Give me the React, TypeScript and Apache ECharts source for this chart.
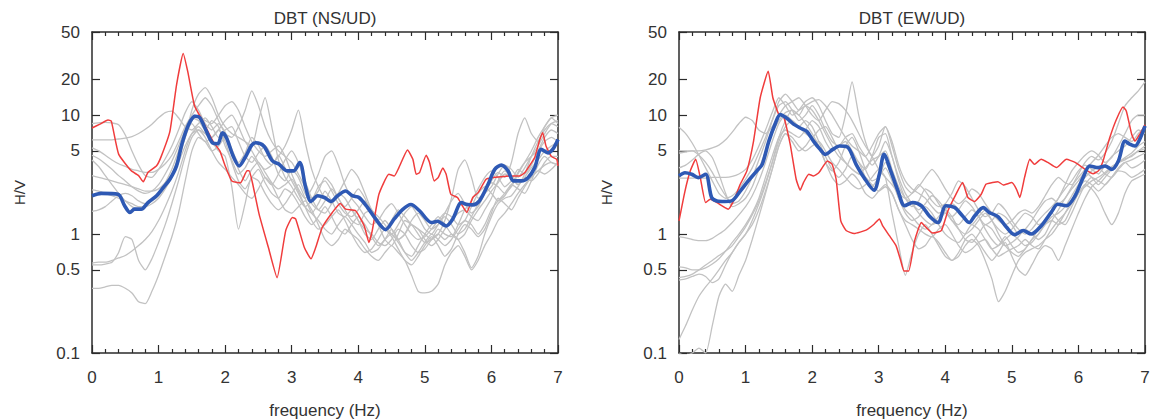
import React, { useEffect, useRef } from 'react';
import * as echarts from 'echarts';

// Sampling frequencies (Hz) of the individual gray curves
const FREQ = [
  0, 0.1, 0.2, 0.3, 0.4, 0.5, 0.6, 0.7, 0.8, 0.9,
  1, 1.1, 1.2, 1.3, 1.4, 1.5, 1.6, 1.7, 1.8, 1.9,
  2, 2.1, 2.2, 2.3, 2.4, 2.5, 2.6, 2.7, 2.8, 2.9,
  3, 3.1, 3.2, 3.3, 3.4, 3.5, 3.6, 3.7, 3.8, 3.9,
  4, 4.1, 4.2, 4.3, 4.4, 4.5, 4.6, 4.7, 4.8, 4.9,
  5, 5.1, 5.2, 5.3, 5.4, 5.5, 5.6, 5.7, 5.8, 5.9,
  6, 6.1, 6.2, 6.3, 6.4, 6.5, 6.6, 6.7, 6.8, 6.9,
  7,
];

const TITLES = ['DBT (NS/UD)', 'DBT (EW/UD)'];
const HV_TICKS = [0.1, 0.5, 1, 5, 10, 20, 50];
const X_NAME = 'frequency (Hz)';
const Y_NAME = 'H/V';

// NS/UD individual records (gray)
const nsGray: number[][] = [
  [8.5,8.6,8.7,8.6,8.3,6.8,5.0,3.8,3.1,3.0, 3.5,4.3,5.5,7.5,10.5,13,11,8.5,7.5,8.5, 7.2,5.2,4.0,4.8,6.5,5.6,4.3,3.8,4.6,3.6, 2.8,2.2,1.7,1.5,1.8,2.3,1.9,1.5,1.4,1.6, 1.3,1.0,0.9,1.1,1.3,1.1,0.9,1.0,1.3,1.5, 1.3,1.1,1.2,1.5,1.9,2.2,1.8,1.5,1.7,2.2, 2.8,3.3,3.0,4.0,7.0,9.5,7.0,6.0,8.0,9.5, 8.5],
  [6.2,6.2,6.2,6.2,6.3,6.4,6.6,7.0,7.6,8.4, 9.5,10.5,10.8,9.5,8.0,7.5,8.5,9.5,8.0,6.5, 7.5,8.0,6.0,4.5,4.0,4.8,5.5,4.5,3.2,2.8, 3.5,3.0,2.2,1.8,1.6,1.9,2.4,2.0,1.6,1.3, 1.2,1.5,1.6,1.2,0.9,0.8,1.0,1.3,1.2,1.0, 0.85,0.9,1.1,1.0,0.95,1.2,1.6,1.9,2.4,3.0, 3.4,3.0,2.5,2.8,3.5,3.2,3.8,5.0,6.5,7.5, 7.0],
  [5.3,5.0,4.6,4.2,3.9,3.7,3.5,3.4,3.3,3.3, 3.5,3.9,4.6,6.0,8.0,10,12,14,12,9, 7,6.5,8,11,16,12,8,6,5,4.5, 4,3.2,2.5,2.0,2.3,3.0,2.6,2.0,1.7,2.0, 2.4,2.0,1.5,1.2,1.1,1.3,1.6,1.4,1.2,1.1, 1.0,0.9,1.0,1.3,2.0,3.5,4.2,3.0,2.0,2.2, 2.5,3.2,3.8,3.5,3.0,3.6,4.5,5.0,6.0,6.5, 6.0],
  [4.6,4.3,3.9,3.5,3.1,2.8,2.5,2.3,2.2,2.3, 2.6,3.2,4.1,5.5,7.5,9.5,9.0,7.5,9.0,8.0, 5.5,4.2,3.2,3.6,4.5,3.8,3.0,2.6,3.2,4.2, 5.0,4.0,2.8,2.0,1.6,1.5,1.8,2.2,2.0,1.6, 1.3,1.1,1.0,0.85,0.8,0.9,1.1,1.0,0.8,0.7, 0.75,0.9,1.0,0.9,1.0,0.9,0.7,0.52,0.65,1.0, 1.4,1.8,2.0,2.1,2.5,3.0,2.8,3.2,4.0,4.5, 4.5],
  [4.2,3.7,3.1,2.6,2.2,1.9,1.7,1.6,1.7,1.9, 2.2,2.7,3.5,5.0,7.0,8.5,7.0,6.0,6.5,7.5, 6.0,4.0,2.8,2.4,3.0,3.5,2.7,2.2,2.0,2.4, 2.2,1.8,1.4,1.2,1.4,1.7,1.4,1.1,1.0,1.2, 1.4,1.2,0.95,0.8,0.9,1.1,0.9,0.7,0.6,0.7, 0.85,1.0,0.9,0.8,0.9,1.1,1.3,1.2,1.0,1.2, 1.6,1.9,2.2,2.6,2.4,2.2,2.8,3.8,4.5,4.0, 3.8],
  [3.1,3.0,2.9,2.8,2.7,2.6,2.5,2.4,2.3,2.3, 2.4,2.7,3.2,4.3,6.5,11,15,17,14,10, 8.0,7.0,6.5,6.0,5.5,9.0,14,8.0,4.2,3.0, 2.5,2.0,1.7,1.9,2.5,2.8,2.3,1.8,1.5,1.4, 1.6,1.9,1.6,1.3,1.1,1.0,1.2,1.5,1.7,1.4, 1.1,1.0,1.2,1.4,1.2,1.0,1.1,1.4,1.8,2.3, 2.7,2.5,2.2,2.5,3.2,4.0,5.0,6.5,8.0,9.5, 10],
  [2.35,2.3,2.2,2.1,2.0,1.9,1.8,1.7,1.7,1.8, 2.0,2.4,3.0,4.0,5.5,7.0,7.5,7.0,6.0,5.0, 4.5,2.5,1.1,1.8,3.0,2.8,2.2,1.8,1.6,1.8, 2.2,2.6,2.0,1.5,1.3,1.1,1.0,1.2,1.4,1.2, 1.0,0.85,0.7,0.75,0.9,1.0,0.85,0.7,0.65,0.8, 1.0,1.2,1.4,1.2,1.0,0.9,1.0,1.3,1.6,1.9, 2.3,2.7,3.2,3.0,2.6,3.0,3.6,4.2,5.0,5.5, 6.0],
  [1.55,1.6,1.7,1.9,2.1,2.2,2.1,1.9,1.8,1.9, 2.1,2.5,3.2,4.5,6.5,9.0,10,9.0,8.5,10, 12,13,11,8.0,6.0,5.0,4.5,5.0,5.5,4.5, 3.2,2.4,2.0,2.4,3.2,4.5,5.0,3.8,2.6,2.0, 1.7,1.4,1.2,1.3,1.6,1.8,1.5,1.2,1.0,0.9, 0.95,1.1,1.3,1.5,1.4,1.2,1.3,1.7,2.2,2.5, 2.2,1.9,2.1,2.6,3.3,4.0,4.5,5.5,7.0,8.5, 9.0],
  [0.57,0.58,0.58,0.6,0.63,0.66,0.72,0.8,0.9,1.05, 1.3,1.7,2.3,3.3,5.0,7.0,8.0,7.0,6.5,7.5, 9.0,10,8.0,6.0,5.0,4.0,3.5,3.8,4.5,5.5, 7.5,11,6.0,3.5,2.5,2.0,1.8,2.2,2.8,3.5, 3.0,2.2,1.6,1.4,1.2,1.0,0.9,1.0,1.2,1.1, 0.9,0.8,0.9,1.1,1.3,1.5,1.6,1.4,1.3,1.6, 2.0,2.8,3.4,3.0,2.6,3.2,4.5,6.0,7.5,8.5, 8.0],
  [0.55,0.55,0.56,0.58,0.7,0.95,0.9,0.6,0.5,0.62, 0.85,1.2,1.8,2.8,4.5,6.5,7.5,6.5,5.0,4.0, 3.5,3.0,2.6,2.2,2.0,2.4,3.0,2.6,2.0,1.6, 1.5,1.7,1.9,1.6,1.2,0.9,0.8,0.9,1.1,1.0, 0.9,0.75,0.65,0.6,0.7,0.8,0.7,0.6,0.45,0.33, 0.32,0.33,0.38,0.55,0.7,0.8,0.65,0.5,0.6,0.8, 1.0,1.3,1.5,1.8,2.2,2.6,3.0,3.4,3.8,4.0, 3.8],
  [0.35,0.35,0.36,0.37,0.37,0.35,0.32,0.27,0.26,0.33, 0.45,0.65,0.95,1.5,2.8,5.0,6.5,6.0,5.0,5.5, 6.5,5.0,3.5,2.8,3.5,4.0,3.3,2.7,2.4,2.6, 2.9,2.3,1.7,1.3,1.1,1.2,1.4,1.6,1.3,1.0, 0.8,0.7,0.75,0.9,1.1,0.95,0.75,0.6,0.55,0.65, 0.8,0.95,0.8,0.65,0.75,1.0,1.2,1.1,0.95,1.1, 1.5,2.0,1.8,1.6,2.0,2.5,3.0,3.4,3.2,3.5, 4.0],
];

// EW/UD individual records (gray)
const ewGray: number[][] = [
  [7.9,7.0,5.8,4.6,3.6,2.8,2.2,2.0,2.1,2.4, 2.9,3.6,4.8,6.5,9.0,12,13,11,9.0,10, 12,10,7.5,6.0,5.5,6.5,7.0,5.5,4.5,3.8, 4.5,6.0,4.5,2.8,2.0,1.7,1.9,2.4,2.2,1.8, 1.5,1.4,1.6,1.9,1.7,1.4,1.2,1.3,1.5,1.4, 1.2,1.0,1.1,1.3,1.6,1.9,2.0,1.8,2.0,2.5, 3.2,4.0,4.5,4.2,4.8,6.0,8.5,12,14,16, 19],
  [5.0,5.0,5.0,5.0,5.1,5.3,5.6,6.2,7.2,8.5, 9.6,9.0,7.5,7.0,8.0,10,12,13,14,12, 10,9.0,11,13,12.5,11,9.0,7.0,5.5,4.5, 3.5,3.0,2.6,2.2,2.0,2.2,2.6,2.3,1.9,1.7, 1.8,2.2,2.8,2.5,2.0,1.6,1.4,1.5,1.8,1.6, 1.3,1.1,1.0,1.1,1.3,1.5,1.7,2.0,2.6,3.4, 4.0,4.6,5.0,4.6,4.0,4.4,5.5,7.0,9.0,10, 10],
  [2.95,2.95,2.95,2.95,2.95,3.0,3.0,3.0,3.05,3.2, 3.5,4.2,5.5,7.5,10.5,14,12,10,11,13, 14,12,9.0,7.0,6.5,10,19,10,6.0,4.5, 5.5,8.0,6.0,3.8,2.8,2.4,2.2,2.0,1.7,1.5, 1.6,1.8,1.6,1.3,1.2,1.4,1.6,1.3,1.1,1.0, 1.1,1.3,1.5,1.4,1.2,1.3,1.6,2.0,2.4,2.8, 3.4,3.8,3.5,3.2,3.8,4.5,5.0,5.5,6.5,7.5, 7.0],
  [3.6,3.8,4.2,4.7,5.0,4.4,3.2,2.2,1.7,1.8, 2.0,2.5,3.5,5.0,7.0,9.0,10.5,11,10,8.5, 7.0,5.5,4.0,3.4,4.0,5.5,6.5,5.0,3.5,2.8, 3.0,4.0,3.0,2.0,1.6,1.4,1.2,1.1,1.2,1.4, 1.6,1.4,1.1,0.9,0.85,1.0,1.2,1.1,0.9,0.8, 0.85,0.95,1.1,1.0,0.9,1.0,1.3,1.6,2.0,2.4, 2.8,3.3,3.0,2.6,3.0,3.5,4.0,4.3,4.5,5.0, 5.2],
  [0.95,0.93,0.9,0.88,0.88,0.92,1.0,1.1,1.25,1.45, 1.7,2.1,2.8,4.0,6.0,8.5,10,9.0,8.0,9.0, 8.0,6.0,4.5,3.5,3.0,3.5,4.5,4.0,3.0,2.5, 3.0,3.6,2.8,2.0,1.5,1.3,1.4,1.7,1.5,1.2, 1.0,0.9,0.85,1.0,1.2,1.1,0.9,0.75,0.8,0.95, 0.8,0.7,0.75,0.9,1.0,1.2,1.4,1.5,1.7,2.1, 2.6,3.0,3.4,3.6,3.2,3.0,3.5,4.0,4.2,4.5, 4.8],
  [0.53,0.52,0.5,0.5,0.52,0.56,0.62,0.72,0.85,1.0, 1.2,1.5,2.0,3.0,4.5,6.5,7.5,7.0,6.5,7.5, 9.0,8.0,6.0,5.0,5.5,6.0,5.0,4.0,3.5,4.5, 6.5,7.0,4.5,3.0,2.2,1.8,1.5,1.3,1.2,1.3, 1.5,1.3,1.1,1.0,1.1,1.3,1.5,1.3,1.0,0.8, 0.7,0.65,0.75,0.9,1.1,1.3,1.5,1.3,1.2,1.5, 2.0,2.6,3.0,2.8,2.6,3.0,3.6,4.0,3.6,3.8, 4.2],
  [0.43,0.44,0.46,0.5,0.55,0.6,0.66,0.72,0.8,0.95, 1.15,1.45,1.9,2.7,4.0,6.0,8.0,9.0,8.0,7.0, 6.5,7.5,8.0,6.5,5.0,4.0,3.5,3.2,3.0,2.6, 2.3,2.5,2.2,1.6,1.2,0.9,0.75,0.8,0.95,0.85, 0.7,0.6,0.65,0.8,0.9,0.8,0.6,0.42,0.27,0.33, 0.45,0.6,0.7,0.75,0.8,0.9,1.0,1.2,1.5,1.9, 2.4,2.8,2.6,2.3,2.6,3.0,3.4,3.3,3.0,3.2, 3.5],
  [0.41,0.42,0.44,0.46,0.44,0.39,0.42,0.55,0.7,0.85, 1.0,1.2,1.6,2.3,3.5,5.5,7.0,6.5,5.5,5.0, 5.5,6.0,5.0,4.0,3.5,3.0,2.6,2.4,2.6,3.0, 3.5,3.0,1.5,0.8,0.45,0.7,1.0,1.2,1.0,0.8, 0.65,0.6,0.7,0.9,1.0,0.85,0.7,0.6,0.7,0.85, 0.65,0.5,0.45,0.55,0.7,0.8,0.75,0.6,0.8,1.1, 1.5,2.0,2.5,2.8,3.2,3.6,4.0,4.4,4.8,5.5, 6.0],
  [0.13,0.17,0.23,0.3,0.36,0.42,0.5,0.6,0.7,0.85, 1.0,1.3,1.8,2.6,4.0,6.5,9.0,11,10,12, 11,9.0,7.0,5.5,4.5,4.0,3.5,3.2,3.6,4.2, 4.5,5.0,3.5,2.5,2.0,1.8,1.6,1.8,2.1,1.9, 1.6,1.3,1.2,1.4,1.6,1.4,1.1,0.9,0.8,0.9, 1.0,0.9,0.8,0.85,1.0,1.2,1.3,1.2,1.3,1.7, 2.2,2.6,2.4,2.0,1.5,1.2,1.5,2.2,2.8,3.0, 3.2],
  [0.1,0.095,0.1,0.11,0.1,0.17,0.3,0.38,0.33,0.45, 0.6,0.9,1.4,2.2,3.5,5.5,7.0,6.0,5.0,5.5, 6.5,5.5,4.0,3.0,2.6,2.8,3.2,2.8,2.2,2.0, 2.3,2.6,2.2,1.6,1.3,1.2,1.1,1.0,0.95,1.1, 1.2,1.0,0.8,0.7,0.75,0.85,0.9,0.75,0.65,0.7, 0.75,0.8,0.9,0.8,0.75,0.9,1.1,1.3,1.5,1.8, 2.2,2.5,2.8,3.0,3.3,3.7,4.0,4.2,4.6,5.0, 5.5],
  [4.8,4.9,5.0,4.6,4.0,3.3,2.6,2.1,1.8,1.9, 2.3,3.0,4.2,6.0,9.0,13,15,13,11,12, 13,13.5,12,10,8.0,6.5,5.5,5.0,4.5,5.5, 7.0,8.0,5.5,3.5,2.5,2.2,2.5,3.0,3.5,3.0, 2.4,2.0,1.8,2.0,2.4,2.2,1.8,1.5,1.3,1.2, 1.3,1.5,1.6,1.5,1.7,2.1,2.6,3.0,2.7,2.6, 3.0,3.5,4.0,4.6,5.5,6.5,7.0,6.5,6.0,7.0, 8.0],
];

// [frequency, H/V] of the highlighted record (red)
const nsRed: number[][] = [
  [0,7.8],[0.12,8.4],[0.24,9.1],[0.29,8.9],[0.4,4.7],[0.59,3.4],[0.7,3.1],[0.77,2.75],[0.84,3.3],[0.97,3.75],
  [1.04,4.5],[1.17,7.3],[1.27,18],[1.37,33],[1.44,23],[1.54,12],[1.65,9.2],[1.82,6],[1.92,5],[2.0,3.75],
  [2.1,2.8],[2.23,2.7],[2.33,3.4],[2.36,3.4],[2.41,2.7],[2.51,1.47],[2.65,0.77],[2.78,0.43],[2.91,1.07],[3.01,1.38],
  [3.06,1.34],[3.19,0.77],[3.29,0.62],[3.36,0.77],[3.46,1.14],[3.61,1.52],[3.73,1.81],[3.81,1.62],[3.96,1.57],[4.09,1.17],
  [4.16,0.85],[4.21,1.07],[4.31,2.16],[4.46,3.18],[4.54,3.08],[4.61,3.62],[4.74,5.1],[4.82,4.25],[4.87,3.18],[4.92,3.28],
  [5.02,4.6],[5.07,4.0],[5.14,2.8],[5.2,2.98],[5.27,3.6],[5.32,3.18],[5.39,2.16],[5.49,2.03],[5.55,1.78],[5.63,1.52],
  [5.72,2.03],[5.8,2.23],[5.92,2.89],[6.0,2.98],[6.15,3.04],[6.35,3.08],[6.42,3.08],[6.5,3.28],[6.57,3.74],[6.65,4.4],
  [6.72,6.05],[6.77,7.1],[6.82,5.5],[6.9,4.5],[6.98,4.25],[7.0,3.75],
];

// [frequency, H/V] of the average curve (blue)
const nsBlue: number[][] = [
  [0,2.1],[0.14,2.2],[0.39,2.16],[0.49,1.73],[0.57,1.52],[0.64,1.62],[0.74,1.62],[0.84,1.84],[0.97,2.1],[1.07,2.46],
  [1.17,2.89],[1.27,3.74],[1.35,5.7],[1.45,8.3],[1.55,9.8],[1.62,9.5],[1.72,7.3],[1.81,5.85],[1.89,5.75],[1.96,7.1],
  [2.02,6.45],[2.12,4.53],[2.21,3.74],[2.3,4.4],[2.4,5.6],[2.46,5.85],[2.58,5.5],[2.71,4.12],[2.81,3.86],[2.93,3.4],
  [3.03,3.4],[3.12,4.0],[3.21,2.46],[3.29,1.88],[3.39,2.1],[3.49,2.03],[3.59,1.88],[3.69,2.1],[3.81,2.3],[3.91,2.1],
  [4.01,2.03],[4.14,1.67],[4.26,1.34],[4.41,1.09],[4.54,1.34],[4.66,1.6],[4.79,1.77],[4.92,1.57],[5.1,1.25],[5.19,1.28],
  [5.32,1.17],[5.42,1.34],[5.55,1.84],[5.62,1.78],[5.72,1.76],[5.82,1.9],[5.95,2.62],[6.05,3.5],[6.15,3.8],[6.25,3.4],
  [6.33,2.8],[6.45,2.8],[6.55,2.98],[6.65,3.62],[6.75,5.15],[6.85,4.82],[6.92,5.15],[7.0,6.25],
];

const ewRed: number[][] = [
  [0,1.29],[0.09,2.3],[0.17,3.4],[0.25,4.25],[0.32,2.98],[0.4,1.84],[0.47,1.96],[0.57,1.84],[0.69,1.67],[0.74,1.62],
  [0.82,1.9],[0.92,2.62],[1.02,3.4],[1.12,6.05],[1.22,14],[1.34,23.4],[1.41,14],[1.5,10.1],[1.57,9.8],[1.67,5.7],
  [1.76,2.89],[1.82,2.34],[1.87,2.71],[1.95,3.18],[2.02,3.08],[2.1,3.28],[2.23,4.12],[2.3,3.86],[2.36,2.9],[2.43,1.29],
  [2.51,1.07],[2.63,1.01],[2.81,1.08],[2.93,1.21],[3.01,1.34],[3.06,1.17],[3.16,0.97],[3.26,0.8],[3.33,0.6],[3.38,0.49],
  [3.45,0.49],[3.54,0.88],[3.64,1.25],[3.71,1.14],[3.81,1.02],[3.94,1.07],[4.04,1.57],[4.16,2.16],[4.26,2.71],[4.34,2.03],
  [4.44,1.88],[4.54,2.16],[4.61,2.62],[4.71,2.71],[4.79,2.76],[4.87,2.59],[5.0,2.71],[5.07,2.38],[5.12,2.03],[5.19,2.98],
  [5.27,4.25],[5.34,3.86],[5.44,4.25],[5.54,4.0],[5.67,3.62],[5.82,4.25],[5.95,4.0],[6.1,3.5],[6.22,3.22],[6.3,3.4],
  [6.37,4.12],[6.47,6.45],[6.57,9.2],[6.67,11.7],[6.72,10.8],[6.8,6.9],[6.85,6.05],[6.92,6.9],[7.0,8.3],
];

const ewBlue: number[][] = [
  [0,3.08],[0.09,3.28],[0.19,3.18],[0.29,2.98],[0.4,3.18],[0.49,2.03],[0.57,1.9],[0.69,1.88],[0.79,1.9],[0.92,2.3],
  [1.04,2.8],[1.17,3.4],[1.25,3.86],[1.35,6.05],[1.45,8.6],[1.52,10.1],[1.62,9.4],[1.72,8.4],[1.82,7.8],[1.92,7.3],
  [2.02,6.05],[2.12,5.15],[2.2,4.68],[2.31,5.15],[2.41,5.5],[2.53,5.4],[2.66,3.86],[2.78,2.98],[2.93,2.34],[3.01,3.18],
  [3.08,4.68],[3.18,3.4],[3.29,2.3],[3.39,1.73],[3.51,1.84],[3.64,1.73],[3.76,1.42],[3.89,1.25],[4.01,1.73],[4.14,1.67],
  [4.26,1.42],[4.36,1.25],[4.44,1.42],[4.57,1.67],[4.66,1.52],[4.79,1.4],[4.92,1.14],[5.04,0.99],[5.17,1.07],[5.29,1.0],
  [5.44,1.17],[5.59,1.52],[5.69,1.78],[5.82,1.73],[5.95,2.1],[6.07,2.98],[6.17,3.74],[6.3,3.62],[6.4,3.74],[6.5,3.5],
  [6.6,4.12],[6.7,6.05],[6.77,5.7],[6.85,5.5],[6.92,6.25],[7.0,8.1],
];

const FONT = '"Liberation Sans", Arial, Helvetica, sans-serif';
const INK = '#2b2b2b';
const TEXT = '#333333';
const GRAY = '#c2c2c2';
const RED = '#f03c3c';
const BLUE = '#2e59b4';

const HV_POS = HV_TICKS.map((v) => Math.log10(v));

function hvLabel(val: number): string {
  let best = 0;
  for (let k = 1; k < HV_POS.length; k++) {
    if (Math.abs(HV_POS[k] - val) < Math.abs(HV_POS[best] - val)) best = k;
  }
  return String(HV_TICKS[best]);
}

function buildOption() {
  const panels = [
    { title: TITLES[0], gray: nsGray, red: nsRed, blue: nsBlue, left: 92, right: 600, center: 325 },
    { title: TITLES[1], gray: ewGray, red: ewRed, blue: ewBlue, left: 679, right: 13, center: 912 },
  ];
  const lineStyleAxis = { color: INK, width: 1.5 };
  const tickStyle = { color: INK, width: 1.2 };
  const grid: any[] = [];
  const xAxis: any[] = [];
  const yAxis: any[] = [];
  const series: any[] = [];
  const title: any[] = [];

  panels.forEach((p, i) => {
    grid.push({ left: p.left, right: p.right, top: 32, bottom: 67, containLabel: false, outerBoundsMode: 'none' });
    title.push({
      text: p.title, left: p.center, top: 10, textAlign: 'center', padding: 0,
      textStyle: { fontSize: 17, fontWeight: 'normal', color: TEXT, fontFamily: FONT },
    });
    const xCommon = {
      type: 'value', gridIndex: i, min: 0, max: 7, interval: 1,
      axisLine: { show: true, onZero: false, lineStyle: lineStyleAxis },
      axisTick: { show: true, inside: true, length: 8, lineStyle: tickStyle },
      minorTick: { show: true, splitNumber: 5, length: 4, lineStyle: tickStyle },
      splitLine: { show: false }, minorSplitLine: { show: false },
    };
    xAxis.push({
      ...xCommon, position: 'bottom',
      axisLabel: { show: true, margin: 16, fontSize: 17, color: TEXT, fontFamily: FONT },
      name: X_NAME, nameLocation: 'middle', nameGap: 49,
      nameTextStyle: { fontSize: 17, color: TEXT, fontFamily: FONT },
    });
    xAxis.push({ ...xCommon, position: 'top', axisLabel: { show: false } });

    yAxis.push({ type: 'log', logBase: 10, gridIndex: i, min: HV_TICKS[0], max: HV_TICKS[HV_TICKS.length - 1], show: false });
    const yCommon = {
      type: 'value', gridIndex: i, min: HV_POS[0], max: HV_POS[HV_POS.length - 1],
      axisLine: { show: true, onZero: false, lineStyle: lineStyleAxis },
      axisTick: { show: true, inside: true, length: 8, customValues: HV_POS, lineStyle: tickStyle },
      splitLine: { show: false },
    };
    yAxis.push({
      ...yCommon, position: 'left',
      axisLabel: { show: true, customValues: HV_POS, formatter: hvLabel, margin: 12, fontSize: 17, color: TEXT, fontFamily: FONT },
      name: Y_NAME, nameLocation: 'middle', nameGap: 65, nameRotate: 90,
      nameTextStyle: { fontSize: 15, color: TEXT, fontFamily: FONT },
    });
    yAxis.push({ ...yCommon, position: 'right', axisLabel: { show: false } });

    const xi = 2 * i;
    const yi = 3 * i;
    p.gray.forEach((vals, g) => {
      series.push({
        type: 'line', name: `gray-${i}-${g}`, xAxisIndex: xi, yAxisIndex: yi,
        data: FREQ.map((f, k) => [f, vals[k]]),
        symbol: 'none', smooth: 0.2, clip: true, silent: true, z: 2,
        lineStyle: { color: GRAY, width: 1.3 },
      });
    });
    series.push({
      type: 'line', name: `red-${i}`, xAxisIndex: xi, yAxisIndex: yi, data: p.red,
      symbol: 'none', smooth: 0.15, clip: true, silent: true, z: 3,
      lineStyle: { color: RED, width: 1.5 },
    });
    series.push({
      type: 'line', name: `blue-${i}`, xAxisIndex: xi, yAxisIndex: yi, data: p.blue,
      symbol: 'none', smooth: 0.3, clip: true, silent: true, z: 4,
      lineStyle: { color: BLUE, width: 3.6 },
    });
  });

  return {
    animation: false,
    backgroundColor: '#ffffff',
    textStyle: { fontFamily: FONT },
    title, grid, xAxis, yAxis, series,
    tooltip: { show: false },
  };
}

export default function App() {
  const ref = useRef<HTMLDivElement>(null);
  useEffect(() => {
    if (!ref.current) return;
    const chart = echarts.init(ref.current, undefined, { renderer: 'svg' });
    chart.setOption(buildOption() as any);
    return () => chart.dispose();
  }, []);
  return <div ref={ref} style={{ position: 'absolute', left: 0, top: 0, width: 1158, height: 420 }} />;
}
